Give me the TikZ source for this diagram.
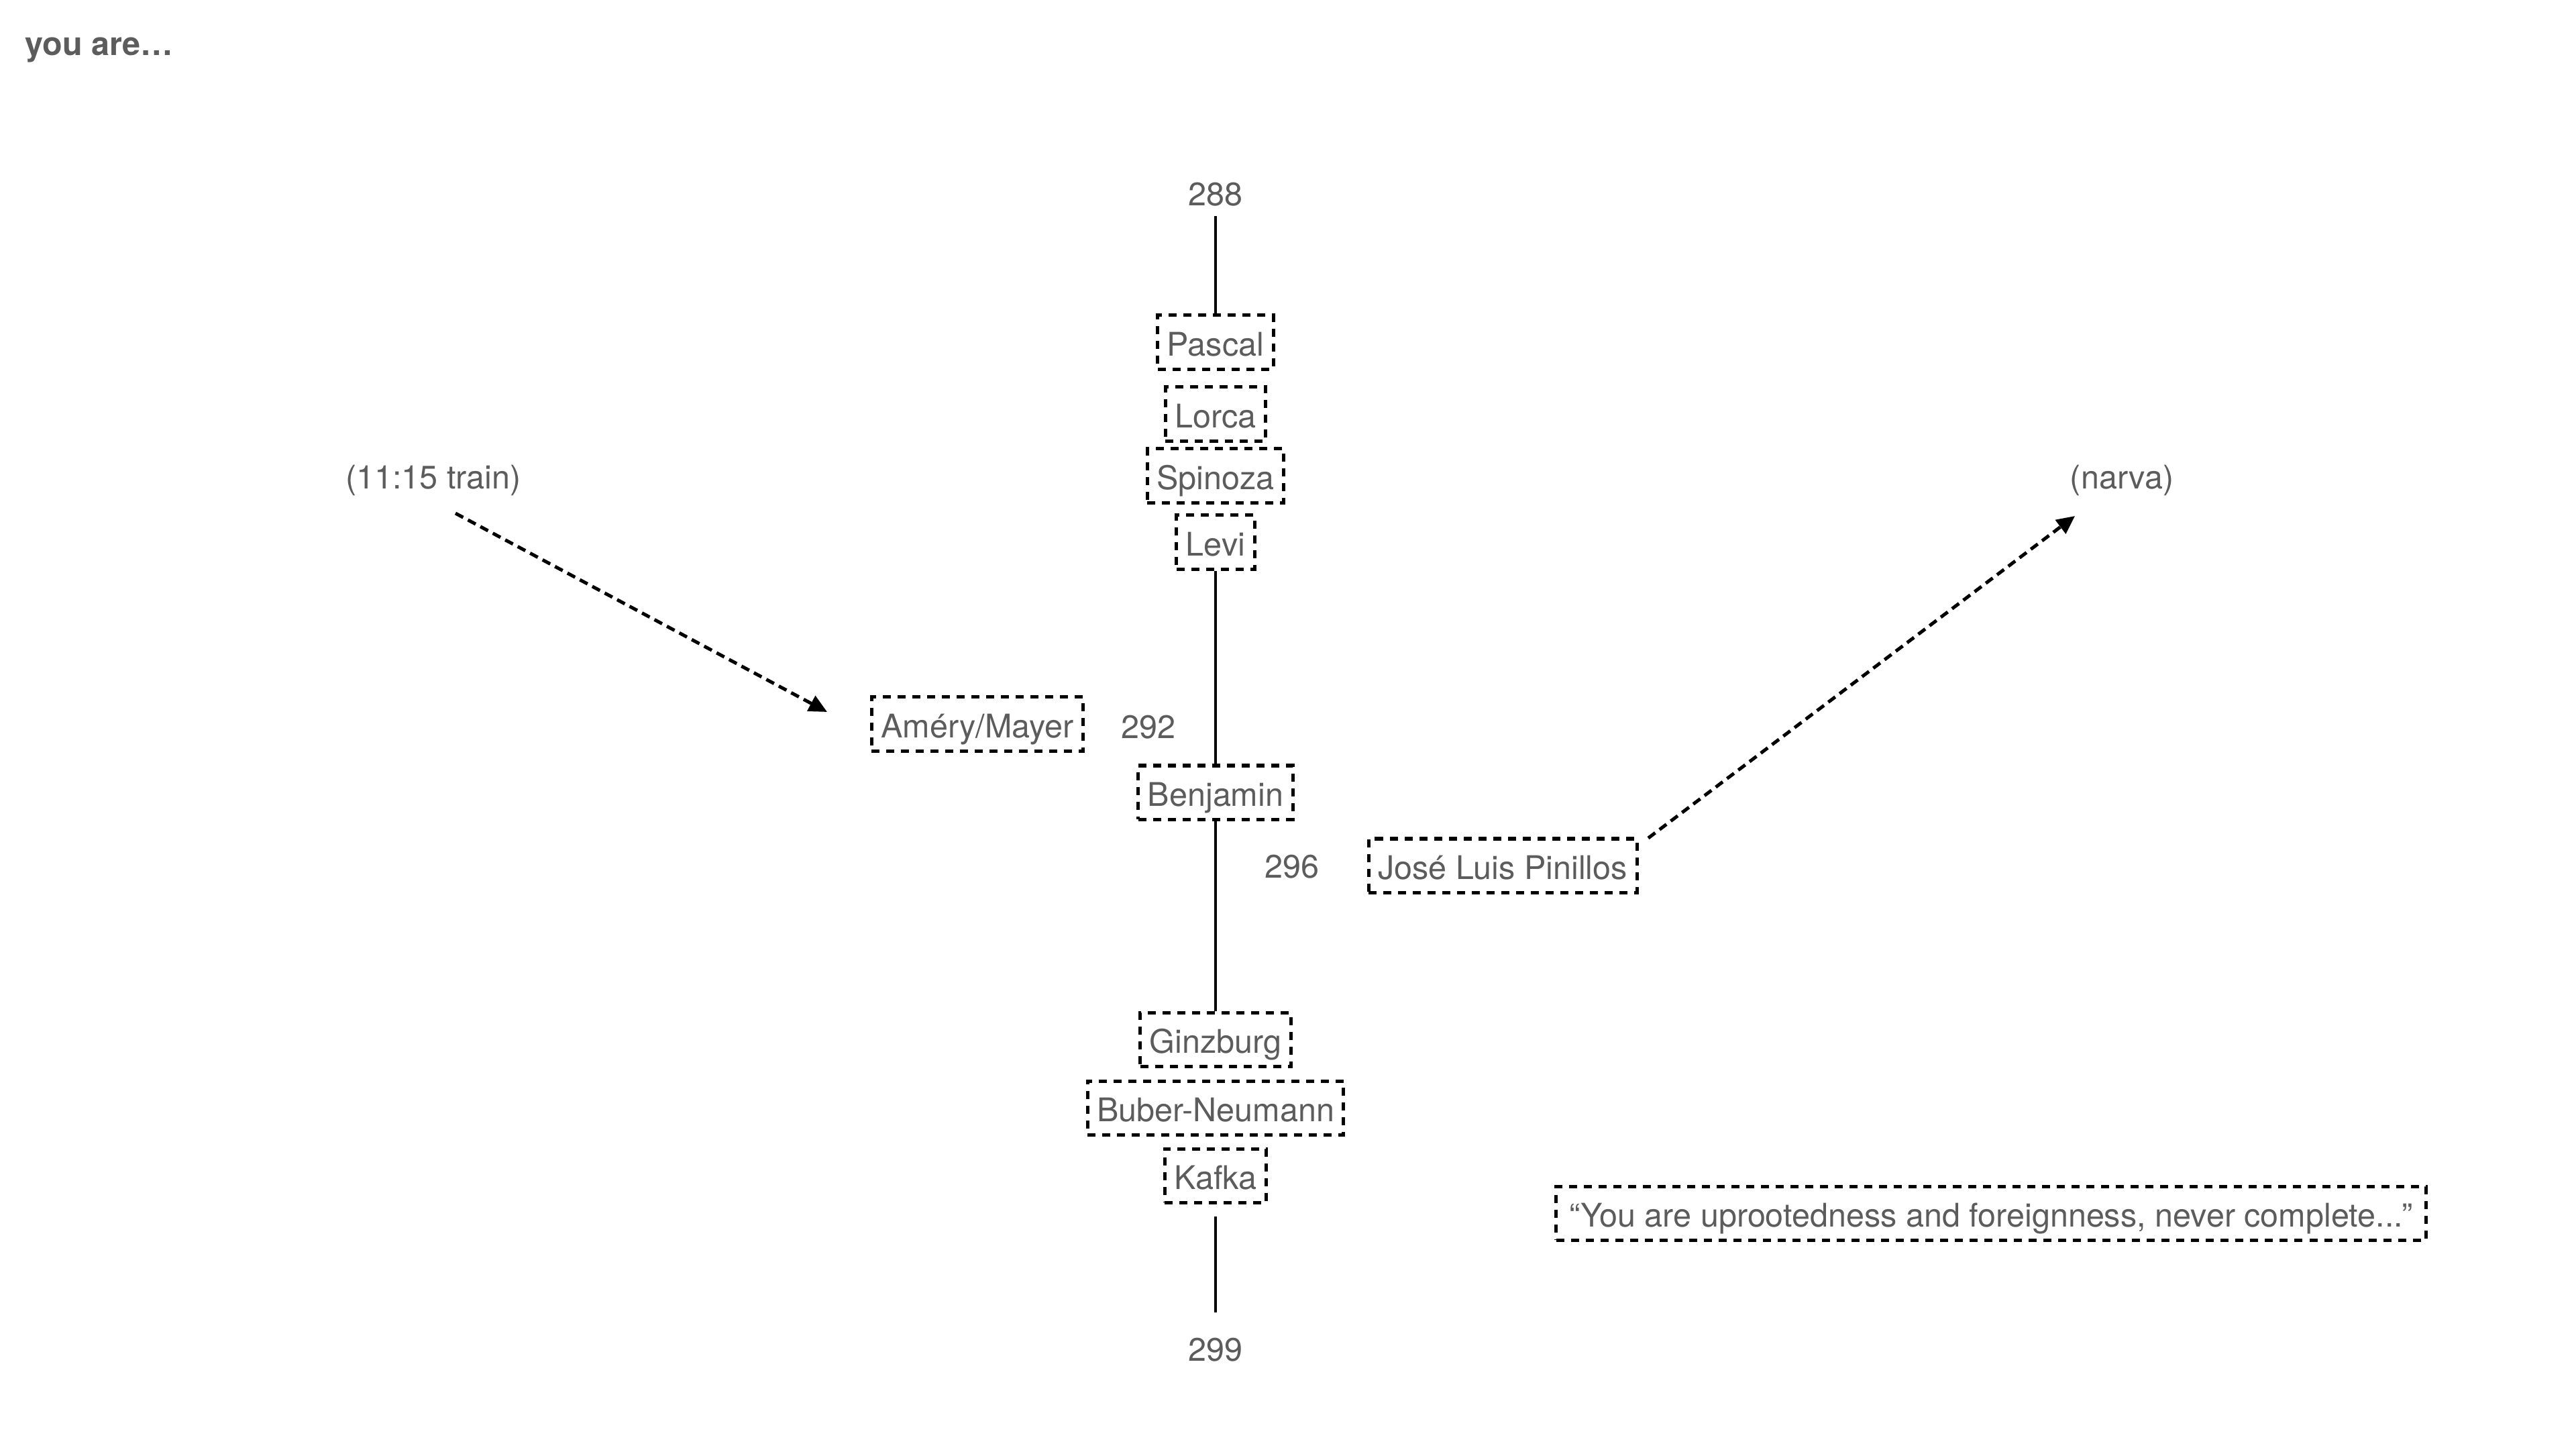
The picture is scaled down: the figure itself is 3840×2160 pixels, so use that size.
\documentclass[tikz,border=0pt]{standalone}
\usepackage{fontspec}
\setmainfont{TeX Gyre Heros}
\usetikzlibrary{arrows.meta}
\definecolor{txtgray}{RGB}{92,92,92}
\tikzset{
  lbl/.style={text=txtgray, font=\fontsize{13.8}{16}\selectfont, inner sep=0pt, text height=0.35cm, text depth=0pt},
  namebox/.style={lbl, draw=black, line width=0.05cm, dash pattern=on 0.12cm off 0.1cm,
     inner xsep=0.14cm, inner ysep=0pt, minimum height=0.8cm, text height=0.41cm, text depth=0pt},
  conn/.style={draw=black, line width=0.04cm},
  darrow/.style={draw=black, line width=0.05cm, dash pattern=on 0.13cm off 0.08cm,
     -{Triangle[length=0.27cm,width=0.25cm]}},
  title/.style={text=txtgray, font=\fontsize{13.8}{16}\selectfont\bfseries, inner sep=0pt}
}
\begin{document}
\begin{tikzpicture}[x=0.01cm,y=-0.01cm]
\useasboundingbox (0,0) rectangle (3840,2160);

\node[title, anchor=base west] (title) at (37,82) {you are…};

% spine
\node[lbl] (n288) at (1812,289) {288};
\node[namebox] (pascal) at (1812,510) {Pascal};
\node[namebox] (lorca) at (1812,617) {Lorca};
\node[namebox] (spinoza) at (1812,709) {Spinoza};
\node[namebox] (levi) at (1812,808) {Levi};
\node[namebox] (benjamin) at (1812,1181) {Benjamin};
\node[namebox] (ginzburg) at (1812,1549) {Ginzburg};
\node[namebox] (buber) at (1812,1651) {Buber-Neumann};
\node[namebox] (kafka) at (1812,1752) {Kafka};
\node[lbl] (n299) at (1812,2011) {299};

% side
\node[namebox] (amery) at (1457,1079) {Améry/Mayer};
\node[lbl] (n292) at (1712,1083) {292};
\node[lbl] (n296) at (1926,1291) {296};
\node[namebox] (pinillos) at (2240,1290) {José Luis Pinillos};
\node[lbl] (train) at (646,711) {(11:15 train)};
\node[lbl] (narva) at (3163,711) {(narva)};
\node[namebox, inner xsep=0.2cm] (quote) at (2968,1808) {“You are uprootedness and foreignness, never complete...”};

% connectors
\draw[conn, shorten <=0.145cm] (n288) -- (pascal);
\draw[conn] (levi) -- (benjamin);
\draw[conn] (benjamin) -- (ginzburg);
\draw[conn, shorten <=0.18cm, shorten >=0.365cm] (kafka) -- (n299);

\coordinate (trainfrom) at (679,765);
\coordinate (ameryto) at (1233,1061);
\draw[darrow] (trainfrom) -- (ameryto);

\coordinate (pinfrom) at (2457,1249);
\coordinate (narvato) at (3093,769);
\draw[darrow] (pinfrom) -- (narvato);
\end{tikzpicture}
\end{document}
